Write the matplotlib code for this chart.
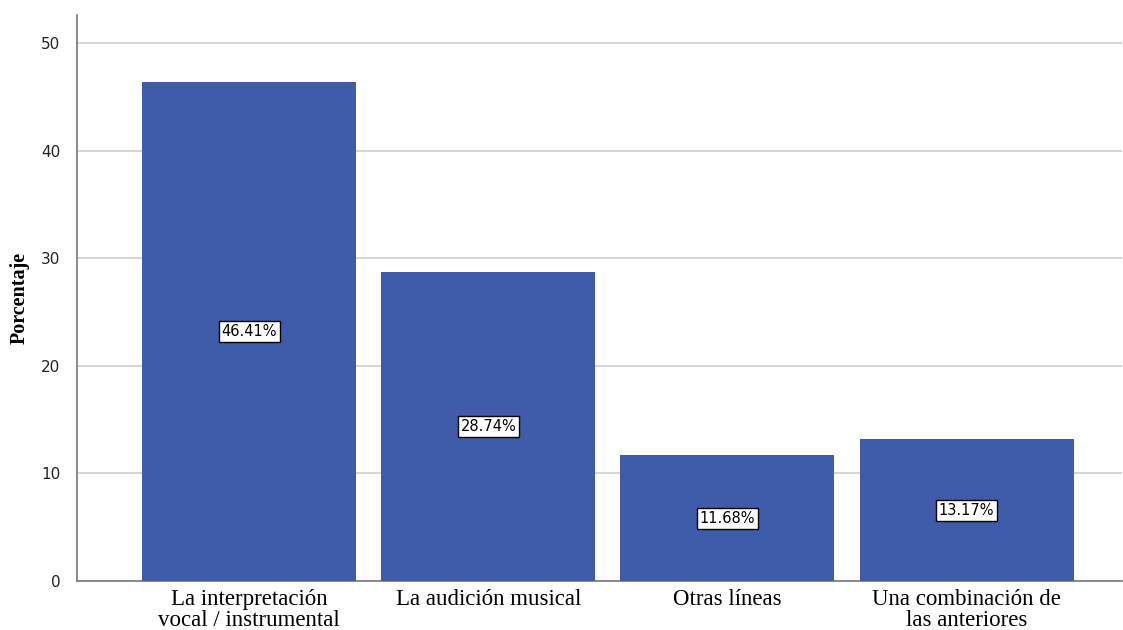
import matplotlib
matplotlib.use("Agg")
import matplotlib.pyplot as plt

# categories and percentages
categorias = ["La interpretación\nvocal / instrumental", "La audición musical",
              "Otras líneas", "Una combinación de\nlas anteriores"]
porcentajes = [46.41, 28.74, 11.68, 13.17]
yticks = [0, 10, 20, 30, 40, 50]

fig = plt.figure(figsize=(11.23, 6.3), dpi=100)
ax = fig.add_axes([77/1123, 1-581/630, 1045/1123, (581-15)/630])

x = range(len(categorias))
bars = ax.bar(x, porcentajes, width=0.895, color="#3F5BA9", zorder=3)

# value labels in white boxes at half height
for xi, v in zip(x, porcentajes):
    ax.text(xi, v/2, f"{v:.2f}%", ha="center", va="center", fontsize=10.5,
            family="DejaVu Sans", zorder=4,
            bbox=dict(boxstyle="square,pad=0.2", fc="white", ec="black", lw=1))

ax.set_xlim(-0.72, 3.65)
ax.set_ylim(0, 52.6)
ax.set_yticks(yticks)
ax.set_xticks(list(x))
ax.set_xticklabels(categorias, family="Liberation Serif", fontsize=16.5, linespacing=1.0)
ax.tick_params(axis="x", length=0, pad=6)
ax.tick_params(axis="y", length=0, pad=12, labelsize=11, labelcolor="#222222")
ax.yaxis.grid(True, color="#d0d0d0", lw=1.2, zorder=0)
ax.set_ylabel("Porcentaje", family="Liberation Serif", fontweight="bold", fontsize=14.5, labelpad=8)

for s in ["top", "right"]:
    ax.spines[s].set_visible(False)
for s in ["left", "bottom"]:
    ax.spines[s].set_color("#777777")
    ax.spines[s].set_linewidth(1.2)

fig.savefig("out.png", dpi=100)
